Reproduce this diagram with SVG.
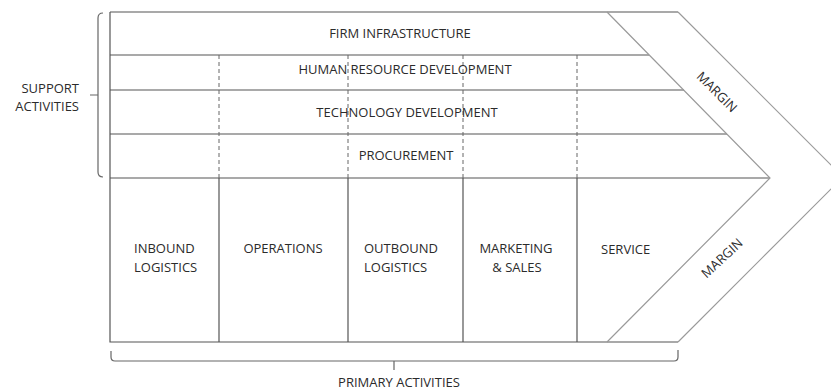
<svg xmlns="http://www.w3.org/2000/svg" width="831" height="392" viewBox="0 0 831 392">
<style>
.ln{fill:none;stroke:#555;stroke-width:1.2}
.dg{fill:none;stroke:#9a9a9a;stroke-width:1.2}
.ds{fill:none;stroke:#666;stroke-width:1;stroke-dasharray:4,3}
.br{fill:none;stroke:#666;stroke-width:1.2}
text{font-family:"Open Sans","Noto Sans","Liberation Sans",sans-serif;font-size:13px;fill:#2b2b2b}
.m{text-anchor:middle}
.e{text-anchor:end}
</style>
<rect width="831" height="392" fill="#fff"/>
<g id="connectors">
<g id="frame">
<path class="ln" d="M110,12 H678 M110,12 V342 H678"/>
<path class="ln" d="M110,55 H649 M110,90 H684 M110,134 H727 M110,178 H770"/>
<path class="ln" d="M219,178 V342 M348,178 V342 M463,178 V342 M577,178 V342"/>
<path class="ds" d="M219,55 V178 M348,55 V178 M463,55 V178 M577,55 V178"/>
<polyline class="dg" points="607,12 770,178 607,342"/>
<polyline class="dg" points="678,12 843,177 678,342"/>
</g>
<g id="braces">
<path class="br" d="M103,13 Q98,13 98,18 V172 Q98,177 103,177 M90,95 H98"/>
<path class="br" d="M111,351 V357 Q111,361 115,361 H674 Q678,361 678,357 V350 M394,361 V370"/>
</g>
</g>
<g id="firm-infrastructure"><text class="m" x="400" y="38">FIRM INFRASTRUCTURE</text></g>
<g id="hrd"><text class="m" x="405" y="74">HUMAN RESOURCE DEVELOPMENT</text></g>
<g id="tech"><text class="m" x="407" y="117">TECHNOLOGY DEVELOPMENT</text></g>
<g id="procurement"><text class="m" x="406" y="160">PROCUREMENT</text></g>
<g id="support"><text class="e" x="79" y="93">SUPPORT</text><text class="e" x="79" y="111">ACTIVITIES</text></g>
<g id="inbound"><text x="134" y="253">INBOUND</text><text x="134" y="272">LOGISTICS</text></g>
<g id="operations"><text class="m" x="283" y="253">OPERATIONS</text></g>
<g id="outbound"><text x="364" y="253">OUTBOUND</text><text x="364" y="272">LOGISTICS</text></g>
<g id="marketing"><text class="m" x="516" y="253">MARKETING</text><text class="m" x="517" y="272">&amp; SALES</text></g>
<g id="service"><text x="601" y="254">SERVICE</text></g>
<g id="primary"><text class="m" x="399" y="387">PRIMARY ACTIVITIES</text></g>
<g id="margin-top"><text class="m" transform="translate(717,92) rotate(45)" y="4.6">MARGIN</text></g>
<g id="margin-bottom"><text class="m" transform="translate(722,258) rotate(-43)" y="4.6">MARGIN</text></g>
</svg>
